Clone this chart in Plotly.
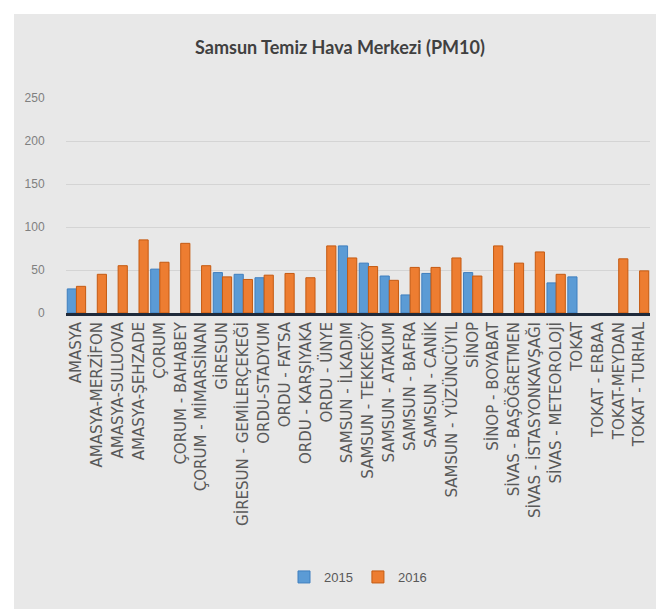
"""
Samsun Temiz Hava Merkezi - PM10 yillik ortalamalar (2015 / 2016).
"""

import plotly.graph_objects as go

# Istasyon adlari
STATIONS = [
    "AMASYA", "AMASYA-MERZİFON", "AMASYA-SULUOVA", "AMASYA-ŞEHZADE",
    "ÇORUM", "ÇORUM - BAHABEY", "ÇORUM - MİMARSİNAN", "GİRESUN",
    "GİRESUN - GEMİLERÇEKEĞİ", "ORDU-STADYUM", "ORDU - FATSA", "ORDU - KARŞIYAKA",
    "ORDU - ÜNYE", "SAMSUN - İLKADIM", "SAMSUN - TEKKEKÖY", "SAMSUN - ATAKUM",
    "SAMSUN - BAFRA", "SAMSUN - CANİK", "SAMSUN - YÜZÜNCÜYIL", "SİNOP",
    "SİNOP - BOYABAT", "SİVAS - BAŞÖĞRETMEN", "SİVAS - İSTASYONKAVŞAĞI", "SİVAS - METEOROLOJİ",
    "TOKAT", "TOKAT - ERBAA", "TOKAT-MEYDAN", "TOKAT - TURHAL",
]

# PM10 (µg/m³), okunan degerler; None = veri yok
PM10_2015 = [
    28, None, None, None,
    51, None, None, 47,
    45, 41, None, None,
    None, 78, 58, 43,
    21, 46, None, 47,
    None, None, None, 35,
    42, None, None, None,
]
PM10_2016 = [
    31, 45, 55, 85,
    59, 81, 55, 42,
    39, 44, 46, 41,
    78, 64, 54, 38,
    53, 53, 64, 43,
    78, 58, 71, 45,
    None, None, 63, 49,
]

Y_TICKS = [0, 50, 100, 150, 200, 250]

COLOR_2015 = "#5B9BD5"
COLOR_2016 = "#ED7D31"
TEXT_GRAY = "#595959"

W, H = 664, 609

fig = go.Figure()
fig.add_trace(go.Bar(
    x=STATIONS, y=PM10_2015, name="2015",
    marker=dict(color=COLOR_2015, line=dict(color="#3f7fbf", width=1)),
))
fig.add_trace(go.Bar(
    x=STATIONS, y=PM10_2016, name="2016",
    marker=dict(color=COLOR_2016, line=dict(color="#c55a11", width=1)),
))

# gri grafik alani (disinda ince beyaz kenar)
ml, mr, mt, mb = 58, 22, 90, 304
pw, ph = W - ml - mr, H - mt - mb
fig.add_shape(
    type="rect", xref="paper", yref="paper", layer="below",
    x0=(6 - ml) / pw, x1=(W - ml) / pw,
    y0=-(H - 4 - mt - ph) / ph, y1=1 + (mt - 6) / ph,
    fillcolor="#e8e8e8", line=dict(width=0),
)

fig.update_layout(
    width=W, height=H,
    margin=dict(l=ml, r=mr, t=mt, b=mb),
    paper_bgcolor="#FFFFFF",
    plot_bgcolor="rgba(0,0,0,0)",
    barmode="group", bargap=0.12, bargroupgap=0.0,
    font=dict(family="Open Sans, sans-serif", color=TEXT_GRAY),
    title=dict(
        text="<b>Samsun Temiz Hava Merkezi (PM10)</b>",
        x=0.5, xanchor="center", y=1 - 40 / H, yanchor="middle",
        font=dict(family="Lato, sans-serif", size=18, color="#404040"),
    ),
    xaxis=dict(
        tickangle=-90, tickfont=dict(family="DejaVu Sans, sans-serif", size=15, color=TEXT_GRAY),
        showline=True, linecolor="#1f2a3a", linewidth=3,
        showgrid=False, ticks="",
    ),
    yaxis=dict(
        range=[0, 250], tickvals=Y_TICKS,
        tickfont=dict(family="Liberation Sans, sans-serif", size=12, color="#7f7f7f"),
        showgrid=True, gridcolor="#d4d4d4", gridwidth=1,
        zeroline=False, ticks="outside", ticklen=18, tickcolor="rgba(0,0,0,0)",
    ),
    legend=dict(
        orientation="h", x=0.5, xanchor="center",
        y=-(569 - mt - ph) / ph, yanchor="middle",
        font=dict(family="Liberation Sans, sans-serif", size=13, color=TEXT_GRAY),
        itemwidth=30, bgcolor="rgba(0,0,0,0)",
    ),
)

fig.write_html("out.html")
